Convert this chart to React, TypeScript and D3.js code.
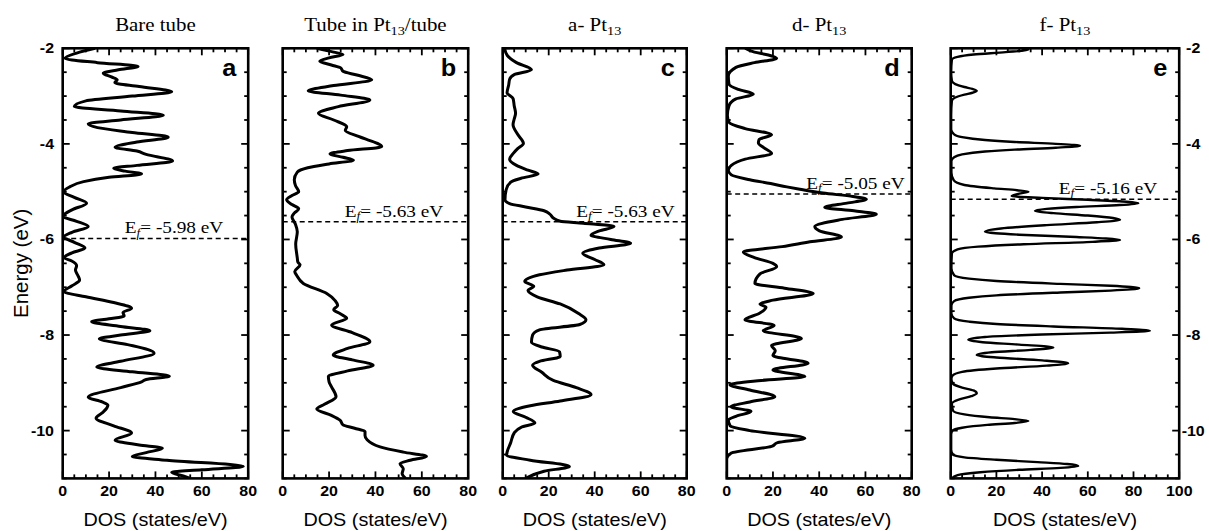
import React from "react";
import * as d3 from "d3";

// ---- data: density of states, [energy (eV), DOS (states/eV)] ----
const bareTube: [number, number][] = [
  [-2.0, 14], [-2.1, 6], [-2.21, 1], [-2.3, 15], [-2.38, 32.5], [-2.45, 24], [-2.52, 17.5],
  [-2.6, 21], [-2.66, 23.5], [-2.72, 22.5], [-2.8, 33], [-2.91, 47], [-3.0, 30], [-3.1, 10],
  [-3.22, 5], [-3.31, 25], [-3.4, 43.4], [-3.5, 25], [-3.58, 11], [-3.66, 15], [-3.76, 30],
  [-3.86, 45.5], [-3.96, 32], [-4.07, 22.6], [-4.15, 32], [-4.22, 36], [-4.36, 47.4],
  [-4.45, 32], [-4.51, 22], [-4.57, 27], [-4.63, 34], [-4.7, 20], [-4.79, 9], [-4.9, 3],
  [-5.0, 0.3], [-5.12, 5], [-5.24, 10.3], [-5.38, 4], [-5.52, 0], [-5.62, 6], [-5.73, 11],
  [-5.85, 4], [-5.95, 0.5], [-6.06, 5], [-6.18, 9.6], [-6.28, 4], [-6.38, 0.5], [-6.45, 3.9],
  [-6.55, 6], [-6.64, 5.5], [-6.75, 6.5], [-6.85, 7.3], [-6.97, 4], [-7.09, 0.5], [-7.2, 10],
  [-7.32, 22], [-7.44, 29.7], [-7.53, 26], [-7.6, 26.5], [-7.66, 20], [-7.72, 12.5],
  [-7.82, 25], [-7.91, 37.6], [-8.0, 25], [-8.08, 15.8], [-8.2, 28], [-8.38, 39.4],
  [-8.55, 25], [-8.67, 14.7], [-8.77, 30], [-8.86, 46], [-8.93, 36], [-8.98, 34], [-9.1, 25],
  [-9.3, 11], [-9.4, 17], [-9.47, 19.5], [-9.53, 19], [-9.63, 17], [-9.74, 14.4], [-9.9, 22],
  [-10.05, 29.7], [-10.2, 22.6], [-10.3, 33], [-10.37, 43], [-10.46, 36], [-10.54, 30],
  [-10.62, 45], [-10.75, 77.9], [-10.82, 60], [-10.87, 47], [-10.95, 52], [-11.0, 55],
];

const tubeInPt13: [number, number][] = [
  [-2.0, 14.7], [-2.08, 22], [-2.13, 26], [-2.2, 20], [-2.27, 16], [-2.35, 21], [-2.41, 25],
  [-2.48, 26], [-2.56, 32], [-2.66, 38.4], [-2.78, 22], [-2.89, 11], [-2.98, 25], [-3.08, 37.6],
  [-3.22, 24], [-3.36, 15.4], [-3.5, 22], [-3.64, 27.6], [-3.72, 27], [-3.85, 33], [-4.06, 42.7],
  [-4.14, 28], [-4.21, 20.4], [-4.28, 26], [-4.34, 30.5], [-4.42, 20], [-4.5, 10.8],
  [-4.59, 6.3], [-4.75, 5], [-4.87, 5.5], [-5.0, 6.9], [-5.08, 4], [-5.17, 1.7], [-5.27, 4],
  [-5.36, 6.9], [-5.45, 5], [-5.53, 4], [-5.68, 5.5], [-5.84, 6.3], [-6.1, 5.6], [-6.39, 6.3],
  [-6.47, 6.5], [-6.53, 7.5], [-6.67, 5.2], [-6.75, 6], [-6.92, 8.9], [-7.13, 19],
  [-7.28, 22.6], [-7.38, 23.7], [-7.47, 22], [-7.56, 25], [-7.65, 27.6], [-7.79, 21.1],
  [-7.95, 30], [-8.14, 37.6], [-8.28, 28], [-8.42, 21.8], [-8.52, 30], [-8.63, 39],
  [-8.75, 28], [-8.87, 19.7], [-8.98, 20], [-9.08, 21], [-9.29, 23], [-9.45, 18], [-9.55, 14.7],
  [-9.68, 21], [-9.78, 24.7], [-9.88, 26], [-9.95, 31], [-10.02, 35.5], [-10.1, 35.5],
  [-10.19, 36.4], [-10.34, 42], [-10.45, 52], [-10.54, 62], [-10.62, 55], [-10.69, 50.6],
  [-10.8, 52], [-10.9, 51.5], [-11.0, 53],
];

const aPt13: [number, number][] = [
  [-2.0, 0.8], [-2.15, 2], [-2.3, 6], [-2.45, 12.5], [-2.55, 5], [-2.65, 3], [-2.77, 2.6],
  [-2.93, 1.9], [-3.05, 4.5], [-3.2, 5], [-3.36, 5.6], [-3.48, 5], [-3.6, 4.5], [-3.8, 6.5],
  [-3.99, 9], [-4.1, 6.5], [-4.2, 4.6], [-4.32, 3], [-4.45, 6], [-4.55, 11], [-4.63, 15.4],
  [-4.72, 8], [-4.8, 3.5], [-4.96, 1.5], [-5.17, 1], [-5.25, 3], [-5.32, 10], [-5.4, 18],
  [-5.47, 20.5], [-5.55, 22], [-5.62, 25], [-5.66, 35], [-5.73, 48.4], [-5.82, 42],
  [-5.91, 38.4], [-6.0, 47], [-6.08, 55.6], [-6.18, 42], [-6.29, 34.8], [-6.42, 40],
  [-6.53, 44], [-6.64, 28], [-6.74, 16], [-6.88, 9.6], [-6.98, 13.5], [-7.07, 11], [-7.2, 15],
  [-7.35, 25], [-7.55, 33], [-7.68, 36.2], [-7.78, 33.5], [-7.89, 16], [-8.0, 13],
  [-8.15, 12.5], [-8.25, 17], [-8.35, 24.7], [-8.45, 25], [-8.55, 16], [-8.63, 13],
  [-8.78, 17], [-8.95, 22], [-9.1, 32], [-9.25, 38.4], [-9.38, 25], [-9.48, 12], [-9.6, 4.6],
  [-9.72, 10], [-9.84, 14], [-9.93, 8], [-10.05, 5], [-10.25, 3.5], [-10.51, 1.7],
  [-10.62, 12], [-10.75, 29], [-10.85, 18], [-11.0, 10],
];

const dPt13: [number, number][] = [
  [-2.0, 8], [-2.08, 12], [-2.14, 18], [-2.21, 21.6], [-2.3, 12], [-2.4, 4], [-2.58, 0.7],
  [-2.75, 1], [-2.86, 5], [-2.96, 11.5], [-3.06, 4], [-3.2, 1], [-3.4, 0.3], [-3.55, 1],
  [-3.68, 8], [-3.81, 19.4], [-3.91, 14], [-3.98, 13.7], [-4.08, 16], [-4.2, 19.4], [-4.32, 8],
  [-4.45, 2], [-4.55, 0.7], [-4.65, 2], [-4.75, 10], [-4.83, 19], [-4.9, 26], [-4.95, 31.6],
  [-5.03, 41.7], [-5.1, 54.6], [-5.16, 60.4], [-5.24, 52], [-5.33, 42.4], [-5.4, 55],
  [-5.47, 64.7], [-5.58, 50], [-5.73, 38.1], [-5.82, 40.1], [-5.95, 49.6], [-6.05, 36],
  [-6.15, 24], [-6.26, 7.2], [-6.38, 12], [-6.5, 20], [-6.57, 21.6], [-6.72, 14.4],
  [-6.92, 12.2], [-7.02, 25], [-7.13, 37.4], [-7.27, 20], [-7.35, 14.4], [-7.42, 17],
  [-7.55, 14], [-7.68, 7.9], [-7.8, 20.5], [-7.91, 15.8], [-8.07, 32.3], [-8.22, 19.4],
  [-8.33, 21], [-8.43, 20], [-8.59, 35.2], [-8.73, 20], [-8.87, 33.8], [-8.95, 15],
  [-9.04, 1.4], [-9.15, 10], [-9.29, 20.8], [-9.4, 10], [-9.5, 1.9], [-9.6, 10.5], [-9.7, 4],
  [-9.78, 0.7], [-9.9, 1.5], [-10.0, 10], [-10.16, 33.8], [-10.25, 22], [-10.33, 19.4],
  [-10.47, 2], [-10.6, 0], [-11.0, 0],
];

const fPt13: [number, number][] = [
  [-2.0, 31], [-2.03, 34], [-2.08, 24], [-2.13, 10], [-2.18, 3], [-2.24, 0.5], [-2.5, 0.2],
  [-2.68, 0.5], [-2.75, 2], [-2.81, 6], [-2.85, 9.5], [-2.89, 11.4], [-2.93, 9.5], [-2.97, 6],
  [-3.03, 2], [-3.1, 0.5], [-3.4, 0.2], [-3.7, 0.2],
  [-3.8, 1.5], [-3.86, 5], [-3.92, 15], [-3.96, 28], [-4.0, 46], [-4.04, 56.6], [-4.08, 46],
  [-4.12, 28], [-4.16, 15], [-4.22, 5], [-4.28, 1.5], [-4.36, 0.3], [-4.6, 0.3],
  [-4.76, 1.3], [-4.86, 6], [-4.93, 19], [-4.97, 29], [-5.0, 34], [-5.04, 30], [-5.09, 26.7],
  [-5.13, 40], [-5.17, 60], [-5.21, 77], [-5.24, 82.1], [-5.28, 74], [-5.32, 55], [-5.36, 42],
  [-5.4, 36.9], [-5.45, 45], [-5.5, 60], [-5.55, 71], [-5.59, 74.1], [-5.64, 64], [-5.7, 42],
  [-5.77, 22], [-5.84, 15], [-5.9, 30], [-5.95, 55], [-5.98, 68], [-6.01, 74.1], [-6.05, 62],
  [-6.1, 32], [-6.15, 12], [-6.21, 3], [-6.3, 0.5], [-6.6, 0.3],
  [-6.75, 1.5], [-6.82, 8], [-6.87, 20], [-6.93, 48], [-6.97, 70], [-7.02, 82.5], [-7.07, 70],
  [-7.11, 48], [-7.17, 20], [-7.22, 8], [-7.29, 1.5], [-7.38, 0.3], [-7.55, 0.3],
  [-7.65, 1.5], [-7.72, 8], [-7.77, 20], [-7.82, 45], [-7.87, 75], [-7.91, 87.2], [-7.95, 70],
  [-7.99, 40], [-8.04, 15], [-8.1, 7.7], [-8.15, 14], [-8.2, 30], [-8.26, 44.9], [-8.31, 35],
  [-8.36, 18], [-8.42, 11.4], [-8.47, 20], [-8.53, 40], [-8.59, 51.4], [-8.64, 42], [-8.7, 20],
  [-8.77, 5], [-8.85, 0.8], [-8.92, 0.3],
  [-9.02, 1], [-9.1, 5], [-9.16, 10], [-9.22, 11.4], [-9.28, 9], [-9.35, 3.5], [-9.44, 0.5],
  [-9.58, 1], [-9.66, 6], [-9.72, 17], [-9.76, 28], [-9.8, 34], [-9.84, 28], [-9.88, 16],
  [-9.94, 5], [-10.0, 0.8], [-10.08, 0.2], [-10.4, 0.2],
  [-10.5, 1], [-10.56, 6], [-10.61, 20], [-10.66, 38], [-10.7, 51], [-10.74, 55.8],
  [-10.78, 48], [-10.82, 30], [-10.87, 13], [-10.93, 3], [-11.0, 0.5],
];

const seriesList = [bareTube, tubeInPt13, aPt13, dPt13, fPt13];
const fermiLevels = [-5.98, -5.63, -5.63, -5.05, -5.16];
const dosMax = [80, 80, 80, 80, 100];
const panelLetters = ["a", "b", "c", "d", "e"];
const titleMain = ["Bare tube", "Tube in Pt", "a- Pt", "d- Pt", "f- Pt"];
const titleSub = ["", "13", "13", "13", "13"];
const titleTail = ["", "/tube", "", "", ""];
const energyTicks = [-2, -4, -6, -8, -10];

// ---- layout ----
const W = 1209;
const H = 531;
const PLOT_TOP = 48.3;
const PLOT_BOTTOM = 478.4;
const panelLeft = [62.7, 282.7, 502.7, 726.7, 950.7];
const panelWidth = [185.5, 185.5, 184, 185, 228.5];
const fermiLabelInset = [25, 25, 12, 7, 22];
const SX = 1.1; // horizontal stretch of the lettering

const SANS = "'Liberation Sans', Arial, Helvetica, sans-serif";
const SERIF = "'Liberation Serif', 'Times New Roman', Times, serif";

const yScale = d3.scaleLinear().domain([-2, -11]).range([PLOT_TOP, PLOT_BOTTOM]);

function Txt(props: {
  x: number; y: number; anchor?: string; size: number; family: string;
  weight?: string | number; rotate?: number; sx?: number; children: React.ReactNode;
}) {
  const { x, y, anchor = "middle", size, family, weight = "normal", rotate, sx = SX, children } = props;
  const tf = `translate(${x},${y}) scale(${sx},1)` + (rotate ? ` rotate(${rotate})` : "");
  return (
    <text transform={tf} textAnchor={anchor} fontSize={size} fontFamily={family}
      fontWeight={weight} fill="#000">
      {children}
    </text>
  );
}

function Panel({ i }: { i: number }) {
  const x0 = panelLeft[i];
  const w = panelWidth[i];
  const xScale = d3.scaleLinear().domain([0, dosMax[i]]).range([x0, x0 + w]);
  const line = d3.line<[number, number]>()
    .x((d) => xScale(d[1]))
    .y((d) => yScale(d[0]))
    .curve(d3.curveMonotoneY);
  const path = line(seriesList[i]) || "";
  const clipId = `clip-${i}`;
  const yTicks = d3.range(-11, -1.999, 0.5);
  const xTicks = d3.range(0, dosMax[i] + 0.001, 5);
  const ef = fermiLevels[i];
  const efY = yScale(ef);
  const cx = x0 + w / 2;
  const right = x0 + w;
  const isMajorY = (v: number) => Math.abs(v % 2) < 1e-6;
  const isMajorX = (v: number) => Math.abs(v % 20) < 1e-6;

  return (
    <g>
      <defs>
        <clipPath id={clipId}>
          <rect x={x0} y={PLOT_TOP} width={w} height={PLOT_BOTTOM - PLOT_TOP} />
        </clipPath>
      </defs>

      {/* title */}
      <Txt x={cx} y={31} size={19} family={SERIF}>
        {titleMain[i]}
        {titleSub[i] && <tspan fontSize={13} dy={4}>{titleSub[i]}</tspan>}
        {titleTail[i] && <tspan dy={-4}>{titleTail[i]}</tspan>}
      </Txt>

      {/* DOS curve */}
      <path d={path} fill="none" stroke="#000" strokeWidth={i === 4 ? 2.4 : 3}
        strokeLinejoin="round" clipPath={`url(#${clipId})`} />

      {/* Fermi level */}
      <line x1={x0} x2={right} y1={efY} y2={efY} stroke="#000" strokeWidth={1.6}
        strokeDasharray="5,3.5" />
      <Txt x={right - fermiLabelInset[i]} y={efY - 5} anchor="end" size={17.5} family={SERIF}>
        E<tspan fontStyle="italic" fontSize={12} dy={3}>f</tspan>
        <tspan dy={-3}>= {ef.toFixed(2)} eV</tspan>
      </Txt>

      {/* energy ticks, both sides, inward */}
      {yTicks.map((v) => {
        const y = yScale(v);
        const len = isMajorY(v) ? 7 : 4;
        return (
          <g key={`y${v}`}>
            <line x1={x0} x2={x0 + len} y1={y} y2={y} stroke="#000" strokeWidth={1.8} />
            <line x1={right} x2={right - len} y1={y} y2={y} stroke="#000" strokeWidth={1.8} />
          </g>
        );
      })}

      {/* DOS ticks, top and bottom, inward */}
      {xTicks.map((v) => {
        const x = xScale(v);
        const len = isMajorX(v) ? 7 : 4;
        return (
          <g key={`x${v}`}>
            <line x1={x} x2={x} y1={PLOT_BOTTOM} y2={PLOT_BOTTOM - len} stroke="#000" strokeWidth={1.8} />
            <line x1={x} x2={x} y1={PLOT_TOP} y2={PLOT_TOP + len} stroke="#000" strokeWidth={1.8} />
          </g>
        );
      })}
      {xTicks.filter(isMajorX).map((v) => (
        <Txt key={`xl${v}`} x={xScale(v)} y={496} size={14.5} family={SANS} weight="bold">
          {String(v)}
        </Txt>
      ))}

      {/* frame */}
      <rect x={x0} y={PLOT_TOP} width={w} height={PLOT_BOTTOM - PLOT_TOP} fill="none"
        stroke="#000" strokeWidth={2.6} />

      {/* panel letter */}
      <Txt x={right - 12} y={76} anchor="end" size={23} family={SANS} weight="bold">
        {panelLetters[i]}
      </Txt>

      {/* axis title */}
      <Txt x={cx} y={526} size={18} family={SANS}>DOS (states/eV)</Txt>
    </g>
  );
}

export default function App() {
  const lastRight = panelLeft[4] + panelWidth[4];
  return (
    <svg width={W} height={H} viewBox={`0 0 ${W} ${H}`}
      style={{ position: "absolute", left: 0, top: 0, background: "#fff" }}>
      <rect x={0} y={0} width={W} height={H} fill="#fff" />
      {seriesList.map((_, i) => <Panel key={i} i={i} />)}

      {/* energy tick labels on the outer axes */}
      {energyTicks.map((v) => (
        <g key={`e${v}`}>
          <Txt x={54} y={yScale(v) + 5} anchor="end" size={14.5} family={SANS} weight="bold">
            {String(v)}
          </Txt>
          <Txt x={lastRight + 14} y={yScale(v) + 5} anchor="middle" size={14.5} family={SANS} weight="bold">
            {String(v)}
          </Txt>
        </g>
      ))}
      <Txt x={28} y={(PLOT_TOP + PLOT_BOTTOM) / 2} size={20.5} family={SANS} rotate={-90} sx={1}>
        Energy (eV)
      </Txt>
    </svg>
  );
}
